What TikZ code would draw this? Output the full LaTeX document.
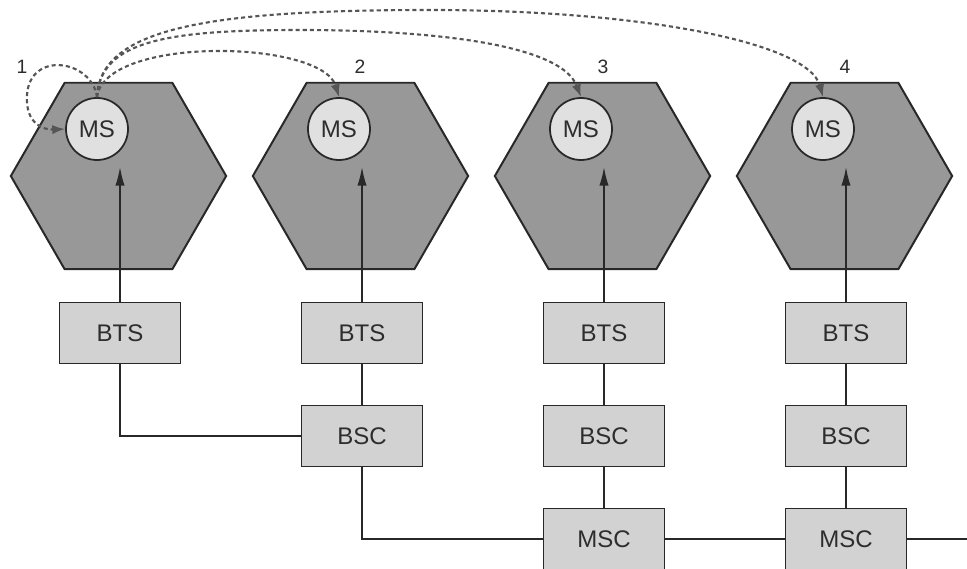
\documentclass[tikz,border=0pt]{standalone}
\usepackage{fontspec}
\setmainfont{Liberation Sans}
\usetikzlibrary{shapes.geometric,arrows.meta}

\definecolor{cellgray}{RGB}{152,152,152}
\definecolor{msgray}{RGB}{224,224,224}
\definecolor{boxgray}{RGB}{210,210,210}
\definecolor{edgegray}{RGB}{40,40,40}
\definecolor{siggray}{RGB}{85,85,85}
\definecolor{labelgray}{RGB}{45,45,45}

\begin{document}
\begin{tikzpicture}[x=0.03cm,y=-0.03cm,
  hexcell/.style={regular polygon, regular polygon sides=6, minimum size=6.46cm,
    inner sep=0pt, draw=edgegray, line width=1.7pt, fill=cellgray},
  mscircle/.style={circle, minimum size=1.86cm, inner sep=0pt, draw=edgegray,
    line width=1.5pt, fill=msgray, text=labelgray,
    font=\fontsize{20.5}{24}\selectfont},
  netbox/.style={rectangle, minimum width=3.63cm, minimum height=1.83cm,
    inner sep=0pt, draw=edgegray, line width=1.4pt, fill=boxgray,
    text=labelgray, font=\fontsize{20.5}{24}\selectfont},
  link/.style={draw=edgegray, line width=1.3pt},
  uplink/.style={link, -{Latex[length=16pt,width=8pt]}},
  sig/.style={draw=siggray, line width=1.8pt, dash pattern=on 3.5pt off 2.6pt,
    -{Latex[length=11pt,width=8pt]}},
  cellno/.style={text=labelgray, font=\fontsize{16.5}{19}\selectfont}
]
\useasboundingbox (0,0) rectangle (967,569);

% cells with their mobile stations
\foreach \i/\c in {1/120,2/362,3/604,4/846}{
  \node[hexcell] (hex\i) at (\c-1.5,176) {};
  \node[mscircle] (ms\i) at (\c-23,129) {MS};
  \coordinate (tip\i) at (\c,167);
}

% position numbers
\node[cellno] (num1) at (22,67) {1};
\node[cellno] (num2) at (360,67) {2};
\node[cellno] (num3) at (603,67) {3};
\node[cellno] (num4) at (845,67) {4};

% base stations and switching
\node[netbox] (bts1) at (120,333) {BTS};
\node[netbox] (bts2) at (362,333) {BTS};
\node[netbox] (bts3) at (604,333) {BTS};
\node[netbox] (bts4) at (846,333) {BTS};
\node[netbox] (bsc2) at (362,436) {BSC};
\node[netbox] (bsc3) at (604,436) {BSC};
\node[netbox] (bsc4) at (846,436) {BSC};
\node[netbox] (msc3) at (604,539) {MSC};
\node[netbox] (msc4) at (846,539) {MSC};
\coordinate (trunk) at (967,539);

% radio links
\foreach \i in {1,...,4}{
  \draw[uplink] (bts\i.north) -- (tip\i);
}

% wired links
\draw[link] (bts1.south) |- (bsc2.west);
\draw[link] (bts2.south) -- (bsc2.north);
\draw[link] (bts3.south) -- (bsc3.north);
\draw[link] (bts4.south) -- (bsc4.north);
\draw[link] (bsc2.south) |- (msc3.west);
\draw[link] (bsc3.south) -- (msc3.north);
\draw[link] (bsc4.south) -- (msc4.north);
\draw[link] (msc3.east) -- (msc4.west);
\draw[link] (msc4.east) -- (trunk);

% movement of the mobile station
\draw[sig] (ms1.north) .. controls (92,60) and (30,50) .. (27,95)
  .. controls (25,125) and (45,130) .. (ms1.west);
\draw[sig] (ms1.north) .. controls (105,35) and (322,40) .. (ms2.north);
\draw[sig] (ms1.north) .. controls (100,40) and (170,30) .. (300,30)
  .. controls (420,30) and (560,42) .. (ms3.north);
\draw[sig] (ms1.north) .. controls (100,30) and (200,10) .. (430,10)
  .. controls (640,10) and (808,42) .. (ms4.north);
\end{tikzpicture}
\end{document}
